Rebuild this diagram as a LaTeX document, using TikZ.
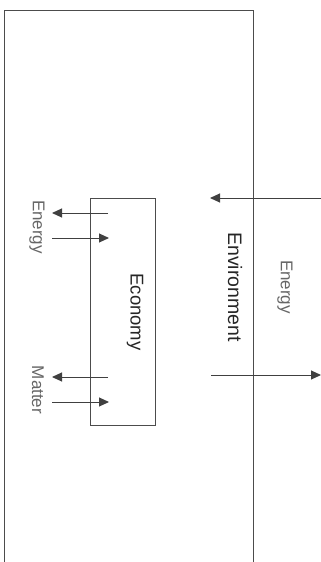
\documentclass[tikz,border=0pt]{standalone}
\usepackage{fontspec}
\setmainfont{Liberation Sans}
\usetikzlibrary{arrows.meta}
\begin{document}
\begin{tikzpicture}[x=1pt,y=-1pt,
  frame/.style={draw=black!70,line width=0.9pt},
  flow/.style={draw=black!75,line width=1pt,-{Triangle[length=10pt,width=9pt]}},
  lbl/.style={rotate=-90,text=black!60,font=\fontsize{17}{20}\selectfont,inner sep=0pt},
  big/.style={rotate=-90,text=black!85,font=\fontsize{18.5}{22}\selectfont,inner sep=0pt}]
\useasboundingbox (0,0) rectangle (321,562);
% outer environment frame (open at bottom)
\coordinate (bl) at (4.5,562);
\coordinate (tl) at (4.5,10);
\coordinate (tr) at (253,10);
\coordinate (br) at (253,562);
\draw[frame] (bl) -- (tl) -- (tr) -- (br);
% economy box
\node[frame,minimum width=65pt,minimum height=227pt,inner sep=0pt] (eco) at (122.5,311.5) {};
\node[big] (ecolbl) at (135,312) {Economy};
\node[big,font=\fontsize{19.5}{23}\selectfont] (envlbl) at (235,287) {Environment};
\node[lbl] (en1) at (37,227) {Energy};
\node[lbl] (mat) at (38,390) {Matter};
\node[lbl] (en2) at (285,287) {Energy};
% arrows at economy
\coordinate (a1s) at (108,213); \coordinate (a1e) at (52,213);
\coordinate (a2s) at (52,238); \coordinate (a2e) at (109,238);
\coordinate (a3s) at (108,377); \coordinate (a3e) at (52,377);
\coordinate (a4s) at (52,402); \coordinate (a4e) at (109,402);
\draw[flow] (a1s) -- (a1e);
\draw[flow] (a2s) -- (a2e);
\draw[flow] (a3s) -- (a3e);
\draw[flow] (a4s) -- (a4e);
% arrows at environment boundary
\coordinate (b1s) at (321,198); \coordinate (b1e) at (210,198);
\coordinate (b2s) at (211,375); \coordinate (b2e) at (321,375);
\draw[flow] (b1s) -- (b1e);
\draw[flow] (b2s) -- (b2e);
\end{tikzpicture}
\end{document}
